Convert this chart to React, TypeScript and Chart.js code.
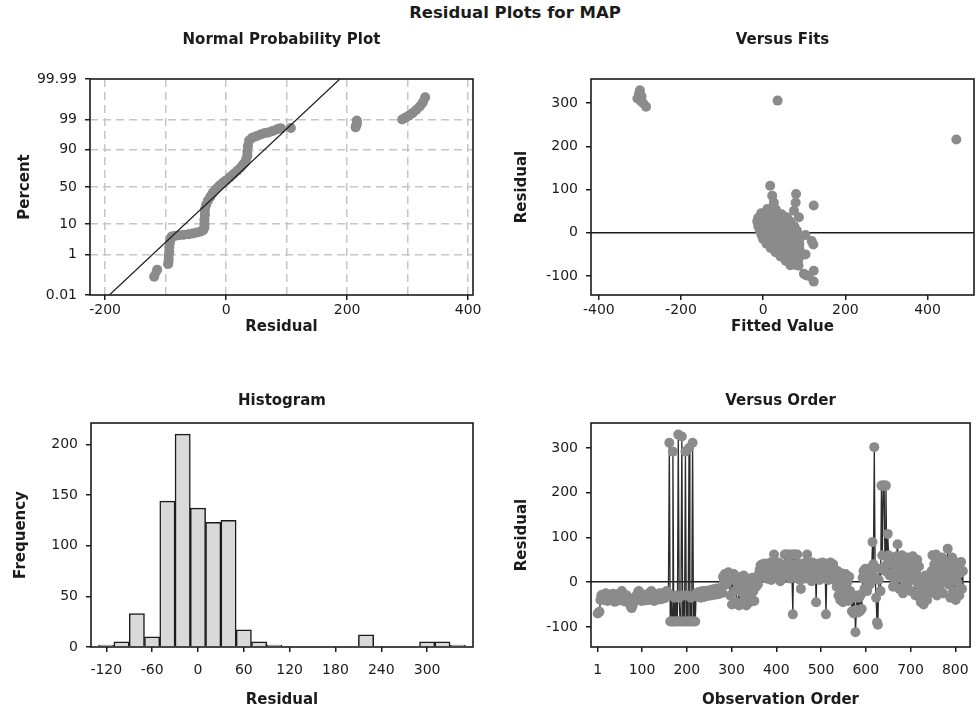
import React, { useEffect, useRef } from 'react';
import { Chart, registerables, LinearScale } from 'chart.js';

// ---------------- Normal probability plot ----------------
const npResidual = [
  -119, -114, null,
  -96, -95, -95, -94, -94, -93, -92, -90, -85, -78, -70, -62, -55, -48, -42, -38, -36, -36, -36, -35,
  -35, -33, -30, -26, -22, -17, -11, -5, 0, 6, 12, 18, 24, 28, 31, 33, 35, 35, 36, 38, 43, 50, 57, 63,
  70, 77, 83, 88, 91, null,
  107, null,
  214, 215, 216, 216, null,
  291, 296, 302, 308, 314, 320, 325, 329,
];
const npPercent = [
  0.1, 0.22, null,
  0.4, 0.6, 0.9, 1.3, 1.9, 2.7, 3.6, 4.4, 4.6, 4.8, 5.0, 5.2, 5.5, 5.9, 6.3, 6.8, 8, 10, 13, 17,
  22, 27, 32, 37, 42, 47, 52, 56, 59, 63, 67, 71, 75, 78, 80, 83, 86, 89, 92, 94.5, 95.5, 96.0, 96.5, 96.8,
  97.0, 97.3, 97.6, 97.8, 97.8, null,
  97.9, null,
  98.0, 98.3, 98.6, 98.9, null,
  99.0, 99.15, 99.3, 99.45, 99.6, 99.72, 99.82, 99.9,
];
const npLineResidual = [-193, 188];
const npLinePercent = [0.01, 99.99];
const npPercentTicks = [0.01, 1, 10, 50, 90, 99, 99.99];
const npResidualTicks = [-200, -100, 0, 100, 200, 300, 400];

// ---------------- Versus fits ----------------
const fitsFitted = [
  -300, -302, -296, -306, -298, -292, -285, 35, 470,
  17, 22, 26, 80, 79, 75, 123, 87, -14, 103, 118, 122, 103, 99, 104, 123, 111, 123,
  10, 20, 31,
  -5, 5, 15, 25, 35, 45,
  -12, -2, 8, 18, 28, 38, 48, 58,
  -14, -4, 6, 16, 26, 36, 46, 56, 66,
  -12, -2, 8, 18, 28, 38, 48, 58, 68, 76,
  -8, 2, 12, 22, 32, 42, 52, 62, 72, 82,
  -4, 6, 16, 26, 36, 46, 56, 66, 76, 86,
  0, 10, 20, 30, 40, 50, 60, 70, 80, 88,
  8, 18, 28, 38, 48, 58, 68, 78, 88,
  18, 28, 38, 48, 58, 68, 78, 88,
  30, 40, 50, 60, 70, 80, 90,
  42, 52, 62, 72, 82, 90,
  55, 65, 75, 85,
  66, 76, 86,
];
const fitsResidual = [
  330, 322, 316, 311, 305, 300, 292, 306, 216,
  109, 86, 70, 90, 70, 51, 63, 36, 28, -5, -19, -27, -50, -95, -98, -88, -100, -113,
  55, 56, 54,
  45, 46, 44, 47, 45, 43,
  35, 36, 34, 35, 37, 33, 35, 36,
  25, 24, 26, 25, 24, 26, 25, 24, 26,
  15, 16, 14, 15, 16, 14, 15, 16, 14, 15,
  5, 4, 6, 5, 4, 6, 5, 4, 6, 5,
  -5, -4, -6, -5, -4, -6, -5, -4, -6, -5,
  -15, -16, -14, -15, -16, -14, -15, -16, -14, -15,
  -25, -24, -26, -25, -24, -26, -25, -24, -26,
  -35, -36, -34, -35, -36, -34, -35, -36,
  -45, -44, -46, -45, -44, -46, -45,
  -55, -56, -54, -55, -56, -54,
  -65, -64, -66, -65,
  -75, -74, -76,
];
const fitsTicks = [-400, -200, 0, 200, 400];
const residualTicks = [-100, 0, 100, 200, 300];

// ---------------- Histogram ----------------
const histBinCenters = [-120, -100, -80, -60, -40, -20, 0, 20, 40, 60, 80, 100, 120, 140, 160, 180, 200, 220, 240, 260, 280, 300, 320, 340];
const histCounts = [2, 5, 33, 10, 144, 210, 137, 123, 125, 17, 5, 2, 0, 0, 0, 0, 0, 12, 0, 0, 0, 5, 5, 2];
const histTicks = [-120, -60, 0, 60, 120, 180, 240, 300];
const freqTicks = [0, 50, 100, 150, 200];

// ---------------- Versus order (every 2nd observation, 1..817) ----------------
const orderStep = 2;
const orderResidual = [
  // 1-9
  -70, -68, -66, -40, -30,
  // 11-159
  -28, -35, -40, -30, -25, -38, -42, -33, -28, -36,
  -40, -30, -26, -34, -44, -38, -30, -27, -35, -41,
  -33, -24, -20, -30, -38, -43, -35, -29, -37, -45,
  -40, -48, -55, -58, -52, -46, -38, -32, -40, -35,
  -22, -20, -30, -38, -42, -34, -28, -36, -41, -31,
  -27, -35, -40, -30, -22, -20, -29, -37, -42, -33,
  -28, -34, -39, -30, -25, -33, -38, -29, -24, -31,
  -36, -27, -20, -30, -25,
  // 161-221
  312, -88, -30, -88, 292, -88, -35, -88, -30, -88,
  330, -35, -88, -30, 326, -88, -30, -88, 292, -88,
  -30, -88, 300, -88, -35, -88, 312, -88, -30, -88,
  -25,
  // 223-279
  -32, -28, -22, -30, -35, -26, -20, -28, -33, -25,
  -19, -27, -31, -24, -18, -26, -30, -22, -16, -25,
  -28, -20, -14, -22, -27, -18, -13, -21, -24,
  // 281-359
  12, 5, 18, 8, -5, 15, 22, 10, -30, 15,
  -50, 5, 18, -20, 8, -45, 12, -10, -52, 0,
  10, -48, -25, 15, -40, 5, -52, -15, 8, -30,
  -45, 0, -38, 10, -20, -42, 5, -10, 12, -5,
  // 361-531
  18, 28, 38, 25, 40, 12, 35, 42, 22, 8,
  40, 30, 15, 44, 5, 38, 25, 62, 42, 18,
  32, 10, 44, 28, 2, 40, 20, 35, 12, 62,
  62, 40, 25, 62, 44, 8, 62, 20, -72, 62,
  62, 35, 10, 62, 42, 28, 5, -15, 40, 18,
  38, 8, 44, 30, 62, 20, 42, 12, 35, 2,
  44, 25, 10, 40, -45, 30, 15, 42, 5, 38,
  20, 44, 10, 30, 42, -72, 18, 40, 5, 35,
  44, 22, 8, 40, 30, 15,
  // 533-567
  15, -10, 25, -30, 5, -40, 20, -15, -45, 10,
  -25, 18, -35, 0, -42, 12, -20, -30,
  // 569-591
  -65, -30, -70, -35, -112, -62, -30, -68, -35, -65, -28, -60,
  // 593-615
  10, 25, -15, 30, 5, -20, 28, 12, -5, 32, 20, 90,
  // 617-655
  40, 302, 10, -35, -90, -95, 5, 30, -20, 216,
  60, 216, 216, 25, 216, 40, 108, 60, 15, 50,
  // 657-721
  20, 55, -10, 40, 5, 30, 58, 85, 20, -15,
  45, 10, 60, -25, 35, 0, 50, 25, -10, 55,
  15, 40, -20, 30, 58, 5, 45, -30, 20, 50,
  -5, 35, -35,
  // 723-745
  -45, -20, 5, -50, -10, 15, -30, -40, 0, -25, 10, -15,
  // 747-817
  25, 60, -10, 40, 5, 62, -30, 20, 50, -15,
  35, 0, 55, -25, 30, 10, 45, 20, 75, -5,
  40, -35, 25, 55, -20, 10, 45, -40, 30, 0,
  35, -30, 20, 45, -15, 25,
];
const orderTicks = [1, 100, 200, 300, 400, 500, 600, 700, 800];

// ---------------- helpers ----------------
function probit(p: number): number {
  const a = [-3.969683028665376e1, 2.209460984245205e2, -2.759285104469687e2, 1.38357751867269e2, -3.066479806614716e1, 2.506628277459239];
  const b = [-5.447609879822406e1, 1.615858368580409e2, -1.556989798598866e2, 6.680131188771972e1, -1.328068155288572e1];
  const c = [-7.784894002430293e-3, -3.223964580411365e-1, -2.400758277161838, -2.549732539343734, 4.374664141464968, 2.938163982698783];
  const d = [7.784695709041462e-3, 3.224671290700398e-1, 2.445134137142996, 3.754408661907416];
  const lo = 0.02425;
  if (p < lo) {
    const q = Math.sqrt(-2 * Math.log(p));
    return (((((c[0] * q + c[1]) * q + c[2]) * q + c[3]) * q + c[4]) * q + c[5]) / ((((d[0] * q + d[1]) * q + d[2]) * q + d[3]) * q + 1);
  }
  if (p <= 1 - lo) {
    const q = p - 0.5;
    const r = q * q;
    return ((((((a[0] * r + a[1]) * r + a[2]) * r + a[3]) * r + a[4]) * r + a[5]) * q) / (((((b[0] * r + b[1]) * r + b[2]) * r + b[3]) * r + b[4]) * r + 1);
  }
  const q = Math.sqrt(-2 * Math.log(1 - p));
  return -(((((c[0] * q + c[1]) * q + c[2]) * q + c[3]) * q + c[4]) * q + c[5]) / ((((d[0] * q + d[1]) * q + d[2]) * q + d[3]) * q + 1);
}
function normCdf(z: number): number {
  const t = 1 / (1 + 0.2316419 * Math.abs(z));
  const dd = 0.3989423 * Math.exp((-z * z) / 2);
  const p = dd * t * (0.3193815 + t * (-0.3565638 + t * (1.781478 + t * (-1.821256 + t * 1.330274))));
  return z > 0 ? 1 - p : p;
}

class ProbitScale extends LinearScale {
  static id = 'probit';
  buildTicks() {
    return [];
  }
  getPixelForValue(value: any) {
    if (value == null || !(value > 0 && value < 100)) return NaN;
    const z0 = probit(this.min / 100);
    const z1 = probit(this.max / 100);
    return this.getPixelForDecimal((probit(value / 100) - z0) / (z1 - z0));
  }
  getValueForPixel(pixel: number) {
    const z0 = probit(this.min / 100);
    const z1 = probit(this.max / 100);
    return 100 * normCdf(z0 + this.getDecimalForPixel(pixel) * (z1 - z0));
  }
}

Chart.register(...registerables, ProbitScale);

const FONT = "'DejaVu Sans', Verdana, sans-serif";
const INK = '#1b1b1b';
const DOT = '#8b8b8b';
const GRID = '#c6c6c6';
const CLEAR = 'rgba(0,0,0,0)';
const TICK_FONT = { family: FONT, size: 14 };
const BOLD_FONT = { family: FONT, size: 15, weight: 'bold' };

const framePlugin = {
  id: 'frame',
  afterDatasetsDraw(chart: any) {
    const { ctx, chartArea: a } = chart;
    ctx.save();
    ctx.strokeStyle = INK;
    ctx.lineWidth = 1.6;
    ctx.strokeRect(a.left, a.top, a.right - a.left, a.bottom - a.top);
    ctx.restore();
  },
};

const setTicks = (values: number[]) => (scale: any) => {
  scale.ticks = values.map((v) => ({ value: v }));
};

// axisH: height of the x axis box (ticks + title); tickPad: gap between tick mark and label
function xScale(min: number, max: number, ticks: number[], title: string, axisH: number, tickPad: number, over: any = {}) {
  return {
    type: 'linear',
    min,
    max,
    offset: false,
    afterBuildTicks: setTicks(ticks),
    afterFit: (s: any) => {
      s.height = axisH;
    },
    ticks: { font: TICK_FONT, color: INK, padding: tickPad, maxRotation: 0, autoSkip: false, callback: (v: number) => String(v), ...(over.ticks || {}) },
    grid: { offset: false, color: CLEAR, lineWidth: 1.5, tickLength: 5, tickWidth: 1.5, tickColor: INK, ...(over.grid || {}) },
    border: { display: false, ...(over.border || {}) },
    title: { display: true, text: title, font: BOLD_FONT, color: INK, padding: 0 },
  };
}

function yScale(type: string, min: number, max: number, ticks: number[], title: string, width: number, over: any = {}) {
  return {
    type,
    min,
    max,
    afterBuildTicks: setTicks(ticks),
    afterFit: (s: any) => {
      s.width = width;
    },
    ticks: { font: TICK_FONT, color: INK, padding: 8, autoSkip: false, callback: (v: number) => String(v), ...(over.ticks || {}) },
    grid: { color: CLEAR, lineWidth: 1.5, tickLength: 5, tickWidth: 1.5, tickColor: INK, ...(over.grid || {}) },
    border: { display: false, ...(over.border || {}) },
    title: { display: true, text: title, font: BOLD_FONT, color: INK, padding: 0 },
  };
}

function panelTitle(text: string, gap: number) {
  return { display: true, text, fullSize: false, font: BOLD_FONT, color: INK, padding: { top: 0, bottom: gap } };
}

function baseOptions(padding: any, title: any, scales: any) {
  return {
    responsive: false,
    animation: false,
    events: [],
    layout: { padding },
    plugins: { legend: { display: false }, tooltip: { enabled: false }, title },
    scales,
  };
}

const zeroLine = { grid: { color: (c: any) => (c.tick && c.tick.value === 0 ? INK : CLEAR) } };

// top row: canvas top 20, plot 79..295 (abs)
const TOP_PAD = 11;
const TOP_GAP = 30;
const TOP_AXIS_H = 41;
const TOP_TICK_PAD = 1.6;
// bottom row: canvas top 380, plot 423..647 (abs)
const BOT_PAD = 12.3;
const BOT_GAP = 12.7;
const BOT_AXIS_H = 62;
const BOT_TICK_PAD = 10;

function normalConfig(): any {
  return {
    type: 'scatter',
    data: {
      datasets: [
        {
          data: npLineResidual.map((x, i) => ({ x, y: npLinePercent[i] })),
          showLine: true,
          borderColor: INK,
          borderWidth: 1.2,
          pointRadius: 0,
        },
        {
          data: npResidual.map((x, i) => ({ x, y: npPercent[i] })),
          showLine: true,
          spanGaps: false,
          borderColor: DOT,
          borderWidth: 9,
          borderCapStyle: 'round',
          borderJoinStyle: 'round',
          pointRadius: 5,
          pointBackgroundColor: DOT,
          pointBorderWidth: 0,
        },
      ],
    },
    options: baseOptions({ left: 16, right: 16, top: TOP_PAD, bottom: 0 }, panelTitle('Normal Probability Plot', TOP_GAP), {
      x: xScale(-225, 408, npResidualTicks, 'Residual', TOP_AXIS_H, TOP_TICK_PAD, {
        ticks: { callback: (v: number) => (v % 200 === 0 ? String(v) : '') },
        grid: { color: GRID, tickColor: (c: any) => (c.tick && c.tick.value % 200 === 0 ? INK : CLEAR) },
        border: { dash: [8, 5] },
      }),
      y: yScale('probit', 0.01, 99.99, npPercentTicks, 'Percent', 74, {
        grid: { color: (c: any) => (c.tick && (c.tick.value <= 0.01 || c.tick.value >= 99.99) ? CLEAR : GRID) },
        border: { dash: [8, 5] },
      }),
    }),
    plugins: [framePlugin],
  };
}

function fitsConfig(): any {
  return {
    type: 'scatter',
    data: {
      datasets: [
        {
          data: fitsFitted.map((x, i) => ({ x, y: fitsResidual[i] })),
          pointRadius: 5,
          pointBackgroundColor: DOT,
          pointBorderWidth: 0,
        },
      ],
    },
    options: baseOptions({ left: 23.7, right: 2, top: TOP_PAD, bottom: 0 }, panelTitle('Versus Fits', TOP_GAP), {
      x: xScale(-419, 513, fitsTicks, 'Fitted Value', TOP_AXIS_H, TOP_TICK_PAD),
      y: yScale('linear', -144, 356, residualTicks, 'Residual', 78.3, zeroLine),
    }),
    plugins: [framePlugin],
  };
}

function histConfig(): any {
  return {
    type: 'bar',
    data: {
      datasets: [
        {
          data: histBinCenters.map((x, i) => ({ x, y: histCounts[i] })),
          backgroundColor: '#d9d9d9',
          borderColor: INK,
          borderWidth: 1.5,
          barPercentage: 1,
          categoryPercentage: 1,
          grouped: false,
        },
      ],
    },
    options: baseOptions({ left: 11.7, right: 16, top: BOT_PAD, bottom: 0 }, panelTitle('Histogram', BOT_GAP), {
      x: xScale(-140, 360, histTicks, 'Residual', BOT_AXIS_H, BOT_TICK_PAD),
      y: yScale('linear', 0, 221, freqTicks, 'Frequency', 79.3),
    }),
    plugins: [framePlugin],
  };
}

function orderConfig(): any {
  return {
    type: 'scatter',
    data: {
      datasets: [
        {
          data: orderResidual.map((y, i) => ({ x: 1 + i * orderStep, y })),
          showLine: true,
          borderColor: '#2c2c2c',
          borderWidth: 1.3,
          pointRadius: 5,
          pointBackgroundColor: DOT,
          pointBorderWidth: 0,
        },
      ],
    },
    options: baseOptions({ left: 23.7, right: 2, top: BOT_PAD, bottom: 0 }, panelTitle('Versus Order', BOT_GAP), {
      x: xScale(-14, 833, orderTicks, 'Observation Order', BOT_AXIS_H, BOT_TICK_PAD),
      y: yScale('linear', -145, 356, residualTicks, 'Residual', 78.3, zeroLine),
    }),
    plugins: [framePlugin],
  };
}

export default function App() {
  const r1 = useRef<HTMLCanvasElement>(null);
  const r2 = useRef<HTMLCanvasElement>(null);
  const r3 = useRef<HTMLCanvasElement>(null);
  const r4 = useRef<HTMLCanvasElement>(null);

  useEffect(() => {
    const charts = [
      new Chart(r1.current as any, normalConfig()),
      new Chart(r2.current as any, fitsConfig()),
      new Chart(r3.current as any, histConfig()),
      new Chart(r4.current as any, orderConfig()),
    ];
    return () => charts.forEach((c) => c.destroy());
  }, []);

  const abs = (left: number, top: number) => ({ position: 'absolute' as const, left, top });

  return (
    <div style={{ position: 'absolute', left: 0, top: 0, width: 979, height: 713, background: '#ffffff', fontFamily: FONT, overflow: 'hidden' }}>
      <div
        style={{
          position: 'absolute',
          left: 515,
          top: 3,
          transform: 'translateX(-50%)',
          whiteSpace: 'nowrap',
          fontWeight: 'bold',
          fontSize: 16.5,
          lineHeight: '20px',
          color: INK,
        }}
      >
        Residual Plots for MAP
      </div>
      <canvas ref={r1} width={489} height={316} style={abs(0, 20)} />
      <canvas ref={r2} width={490} height={316} style={abs(489, 20)} />
      <canvas ref={r3} width={489} height={329} style={abs(0, 380)} />
      <canvas ref={r4} width={490} height={329} style={abs(489, 380)} />
    </div>
  );
}
